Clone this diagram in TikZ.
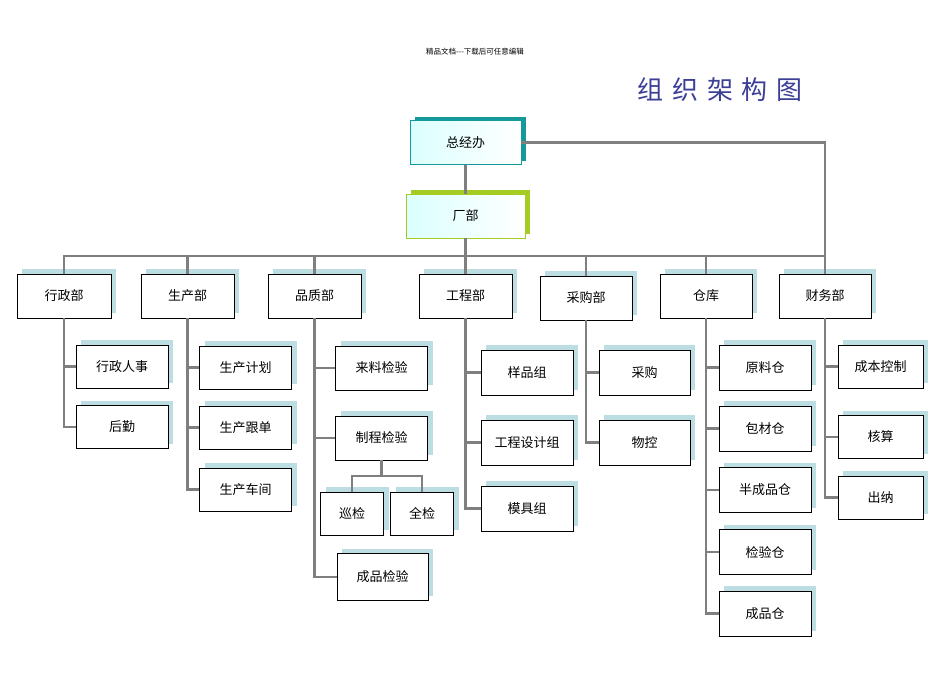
\documentclass[tikz,border=0pt]{standalone}
\usepackage{fontspec}
\newfontfamily\cjk{Noto Sans CJK SC}
\usetikzlibrary{shadows}
\definecolor{linegray}{HTML}{7F7F7F}
\definecolor{shadowblue}{HTML}{BCDDE2}
\definecolor{topteal}{HTML}{16999B}
\definecolor{topgreen}{HTML}{A5CC22}
\definecolor{titleblue}{HTML}{3B3F96}
\tikzset{
  unitbox/.style={draw=black, thin, rectangle, fill=white, minimum width=92pt, minimum height=43pt,
    font=\cjk\fontsize{13}{15}\selectfont,
    general shadow={fill=shadowblue, shadow xshift=5pt, shadow yshift=5pt}},
  headbox/.style={draw=#1, thin, rectangle, left color=cyan!14!white, right color=white,
    minimum height=44pt, font=\cjk\fontsize{13}{15}\selectfont,
    general shadow={fill=#1, shadow xshift=5pt, shadow yshift=4pt}},
  link/.style={draw=linegray, line width=2.5pt}
}
\begin{document}
\begin{tikzpicture}[x=1pt,y=-1pt]
	\useasboundingbox (0,0) rectangle (950,672);
	\node [font=\cjk\fontsize{7.5}{8}\selectfont] (note) at (475,52) {精品文档---下载后可任意编辑};
	\node [font=\cjk\fontsize{26}{28}\selectfont, text=titleblue] (title) at (720,90)
		{组\hspace{9pt}织\hspace{9pt}架\hspace{9pt}构\hspace{9pt}图};
	% top
	\node [headbox=topteal, minimum width=111pt] (zjb) at (465.5,142.5) {总经办};
	\node [headbox=topgreen, minimum width=119pt] (cb) at (465.5,216) {厂部};
	% departments
	\node [unitbox, minimum width=94pt, minimum height=44pt] (xz) at (64,296) {行政部};
	\node [unitbox, minimum width=93pt, minimum height=44pt] (sc) at (187.5,296) {生产部};
	\node [unitbox, minimum width=93pt, minimum height=44pt] (pz) at (314.5,296) {品质部};
	\node [unitbox, minimum width=93pt, minimum height=44pt] (gc) at (465.5,296) {工程部};
	\node [unitbox, minimum width=92pt, minimum height=44pt] (cg) at (586,298) {采购部};
	\node [unitbox, minimum width=92pt, minimum height=44pt] (ck) at (706,296) {仓库};
	\node [unitbox, minimum width=92pt, minimum height=44pt] (cw) at (825,296) {财务部};
	% sub units
	\node [unitbox] (xzrs) at (122,366.5) {行政人事};
	\node [unitbox] (hq) at (122,427) {后勤};
	\node [unitbox] (scjh) at (245.5,367.5) {生产计划};
	\node [unitbox] (scgd) at (245.5,427.5) {生产跟单};
	\node [unitbox] (sccj) at (245.5,489.5) {生产车间};
	\node [unitbox, minimum height=44pt] (lljy) at (381.5,368) {来料检验};
	\node [unitbox, minimum height=44pt] (zcjy) at (381.5,438) {制程检验};
	\node [unitbox, minimum width=63pt] (xj) at (352,513.5) {巡检};
	\node [unitbox, minimum width=63pt] (qj) at (422,513.5) {全检};
	\node [unitbox, minimum width=91pt, minimum height=47pt] (cpjy) at (382.5,577) {成品检验};
	\node [unitbox, minimum height=45pt] (ypz) at (527,372.5) {样品组};
	\node [unitbox, minimum height=45pt] (gcsj) at (527,442.5) {工程设计组};
	\node [unitbox, minimum height=45pt] (mjz) at (527,508.5) {模具组};
	\node [unitbox, minimum width=91pt, minimum height=45pt] (cgou) at (644.5,372.5) {采购};
	\node [unitbox, minimum width=91pt, minimum height=45pt] (wk) at (644.5,442.5) {物控};
	\node [unitbox, minimum height=45pt] (ylc) at (765,367.5) {原料仓};
	\node [unitbox, minimum height=45pt] (bcc) at (765,428.5) {包材仓};
	\node [unitbox, minimum height=45pt] (bcp) at (765,490) {半成品仓};
	\node [unitbox, minimum height=45pt] (jyc) at (765,552) {检验仓};
	\node [unitbox, minimum height=45pt] (cpc) at (765,613.5) {成品仓};
	\node [unitbox, minimum width=85pt] (cbkz) at (880.5,366.5) {成本控制};
	\node [unitbox, minimum width=85pt] (hs) at (880.5,437) {核算};
	\node [unitbox, minimum width=85pt] (cn) at (880.5,497.5) {出纳};
	% connectors
	\draw [link] (zjb) -- (cb);
	\draw [link] (zjb.east) -| (cw.north);
	\foreach \d in {xz,sc,pz,gc,cg,ck,cw}
		\draw [link] (cb.south) -- ++(0,18) -| (\d.north);
	\foreach \d/\s in {xz/xzrs,xz/hq,sc/scjh,sc/scgd,sc/sccj,pz/lljy,pz/zcjy,pz/cpjy,
		gc/ypz,gc/gcsj,gc/mjz,cg/cgou,cg/wk,ck/ylc,ck/bcc,ck/bcp,ck/jyc,ck/cpc,cw/cbkz,cw/hs,cw/cn}
		\draw [link] (\d.south) |- (\s.west);
	\draw [link] (zcjy.south) -- ++(0,16) -| (xj.north);
	\draw [link] (zcjy.south) -- ++(0,16) -| (qj.north);
\end{tikzpicture}
\end{document}
